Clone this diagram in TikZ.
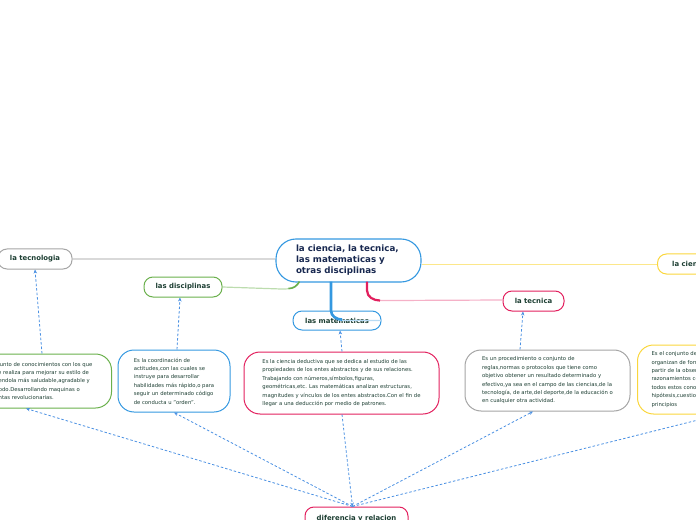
\documentclass[tikz,border=0pt]{standalone}
\usepackage{fontspec}
\setmainfont{DejaVu Sans}
\usepackage{tikz}
\usetikzlibrary{arrows.meta,positioning,calc}

\definecolor{mblue}{RGB}{52,152,224}
\definecolor{mgreen}{RGB}{106,176,76}
\definecolor{mgray}{RGB}{165,165,165}
\definecolor{mcrimson}{RGB}{226,32,94}
\definecolor{myellow}{RGB}{250,214,60}
\definecolor{linkblue}{RGB}{74,144,226}
\definecolor{lbltext}{RGB}{28,62,50}
\definecolor{navytext}{RGB}{24,40,80}

\begin{document}
\begin{tikzpicture}[
  x=1bp, y=-1bp,
  topic/.style={draw=mblue, line width=1.1bp, rounded corners=20bp, inner xsep=20bp, text width=105bp,
    minimum height=43bp, align=left, text=navytext, font=\fontsize{8.7bp}{11bp}\selectfont\bfseries},
  lbl/.style={draw, line width=1bp, rounded corners=9bp, minimum height=20bp, inner sep=2bp,
    text=lbltext, font=\fontsize{6.9bp}{8bp}\selectfont\bfseries},
  desc/.style={draw, line width=1bp, rounded corners=16bp, inner xsep=12bp, align=left,
    text=lbltext, font=\fontsize{5.3bp}{8.4bp}\selectfont},
  link/.style={linkblue, line width=0.8bp, dash pattern=on 2.5bp off 2bp, -{Stealth[length=4bp,width=3.5bp]}}
]
  \useasboundingbox (0,0) rectangle (696,520);

  % central topic and its branches
  \node[topic] (main) at (348.5,260.5) {la ciencia, la tecnica,\\las matematicas y\\otras disciplinas};
  \node[lbl, draw=mgray, minimum width=74bp] (tecnologia) at (35,259) {la tecnologia};
  \node[lbl, draw=mgreen, minimum width=78bp] (disciplinas) at (183,287) {las disciplinas};
  \node[lbl, draw=mblue, minimum width=88bp, minimum height=19bp] (matematicas) at (337,320.5) {las matematicas};
  \node[lbl, draw=mcrimson, minimum width=61bp] (tecnica) at (533.5,301) {la tecnica};
  \node[lbl, draw=myellow, minimum width=66bp, anchor=west] (ciencia) at (657,264) {la ciencia};

  \draw[line width=1.8bp, gray!30] (tecnologia.east) -- (tecnologia.east -| main.west);
  \draw[line width=1bp, myellow!60] (ciencia.west) -- (ciencia.west -| main.east);
  \draw[line width=1.2bp, mgreen!45] ($(main.south)+(-50,0)$) to[out=-120,in=0] ($(main.south)+(-66,6.5)$) -- (disciplinas.east);
  \draw[line width=1.6bp, mgreen] ($(main.south)+(-49,-1)$) to[out=-120,in=0] ($(main.south)+(-60,6)$);
  \draw[line width=1.2bp, mcrimson!35] ($(main.south)+(19,8)$) to[out=-90,in=180] ($(main.south)+(32,18)$) -- (tecnica.west |- 0,300);
  \draw[line width=2.2bp, mcrimson] ($(main.south)+(18.5,-1)$) -- ++(0,9) to[out=-90,in=180] ++(13,10);
  \draw[line width=1.4bp, mblue!35] ($(main.south)+(-17.5,28)$) to[out=-90,in=180] ($(main.south)+(-5,38)$) -- (matematicas.east);
  \draw[line width=2.6bp, mblue] ($(main.south)+(-17.5,-1)$) -- ++(0,29) to[out=-90,in=180] ++(11,9);

  % description boxes
  \node[desc, draw=mgreen, minimum width=156bp, minimum height=54bp, anchor=east] (tecnodesc) at (112,381)
    {Es el conjunto de conocimientos con los que\\el hombre realiza para mejorar su estilo de\\vida,haciendola más saludable,agradable y\\mas comodo.Desarrollando maquinas o\\herramientas revolucionarias.};
  \node[desc, draw=mblue, minimum width=112bp, minimum height=62bp] (discdesc) at (174,381)
    {Es la coordinación de\\actitudes,con las cuales se\\instruye para desarrollar\\habilidades más rápido,o para\\seguir un determinado código\\de conducta u "orden".};
  \node[desc, draw=mcrimson, minimum width=195bp, minimum height=62bp] (matdesc) at (341.5,383)
    {Es la ciencia deductiva que se dedica al estudio de las\\propiedades de los entes abstractos y de sus relaciones.\\Trabajando con números,símbolos,figuras,\\geométricas,etc. Las matemáticas analizan estructuras,\\magnitudes y vínculos de los entes abstractos.Con el fin de\\llegar a una deducción por medio de patrones.};
  \node[desc, draw=mgray, minimum width=165bp, minimum height=61bp] (tecdesc) at (547.5,380.5)
    {Es un procedimiento o conjunto de\\reglas,normas o protocolos que tiene como\\objetivo obtener un resultado determinado y\\efectivo,ya sea en el campo de las ciencias,de la\\tecnología, de arte,del deporte,de la educación o\\en cualquier otra actividad.};
  \node[desc, draw=myellow, inner xsep=14bp, minimum height=69bp, anchor=west] (ciendesc) at (637,379.5)
    {Es el conjunto de conocimientos que se\\organizan de forma sistemática obtenidos a\\partir de la observación,experimentación y\\razonamientos comprobados y\\todos estos conocimientos generan\\hipótesis,cuestionamientos,leyes y\\principios};

  \draw[link] ($(tecnodesc.north east)+(-70,0)$) -- (tecnologia.south);
  \draw[link] ($(discdesc.north)+(3,0)$) -- ($(disciplinas.south)+(-3,0)$);
  \draw[link] ($(matdesc.north)+(0.5,0)$) -- ($(matematicas.south)+(3,0)$);
  \draw[link] ($(tecdesc.north)+(-27.5,0)$) -- ($(tecnica.south)+(-10.5,0)$);

  % bottom node linked to every description
  \node[lbl, draw=mcrimson, minimum width=103bp, minimum height=24bp] (diferencia) at (356.5,519) {diferencia y relacion};
  \coordinate (hub) at ($(diferencia.north)+(-4,0)$);
  \draw[link] (hub) -- ($(tecnodesc.south east)+(-86,0)$);
  \draw[link] (hub) -- (discdesc.south);
  \draw[link] ($(matdesc.south)+(0.5,0)$) -- (hub);
  \draw[link] (hub) -- ($(tecdesc.south)+(-14.5,0)$);
  \draw[link] (hub) -- ($(ciendesc.south west)+(83,0)$);
\end{tikzpicture}
\end{document}
